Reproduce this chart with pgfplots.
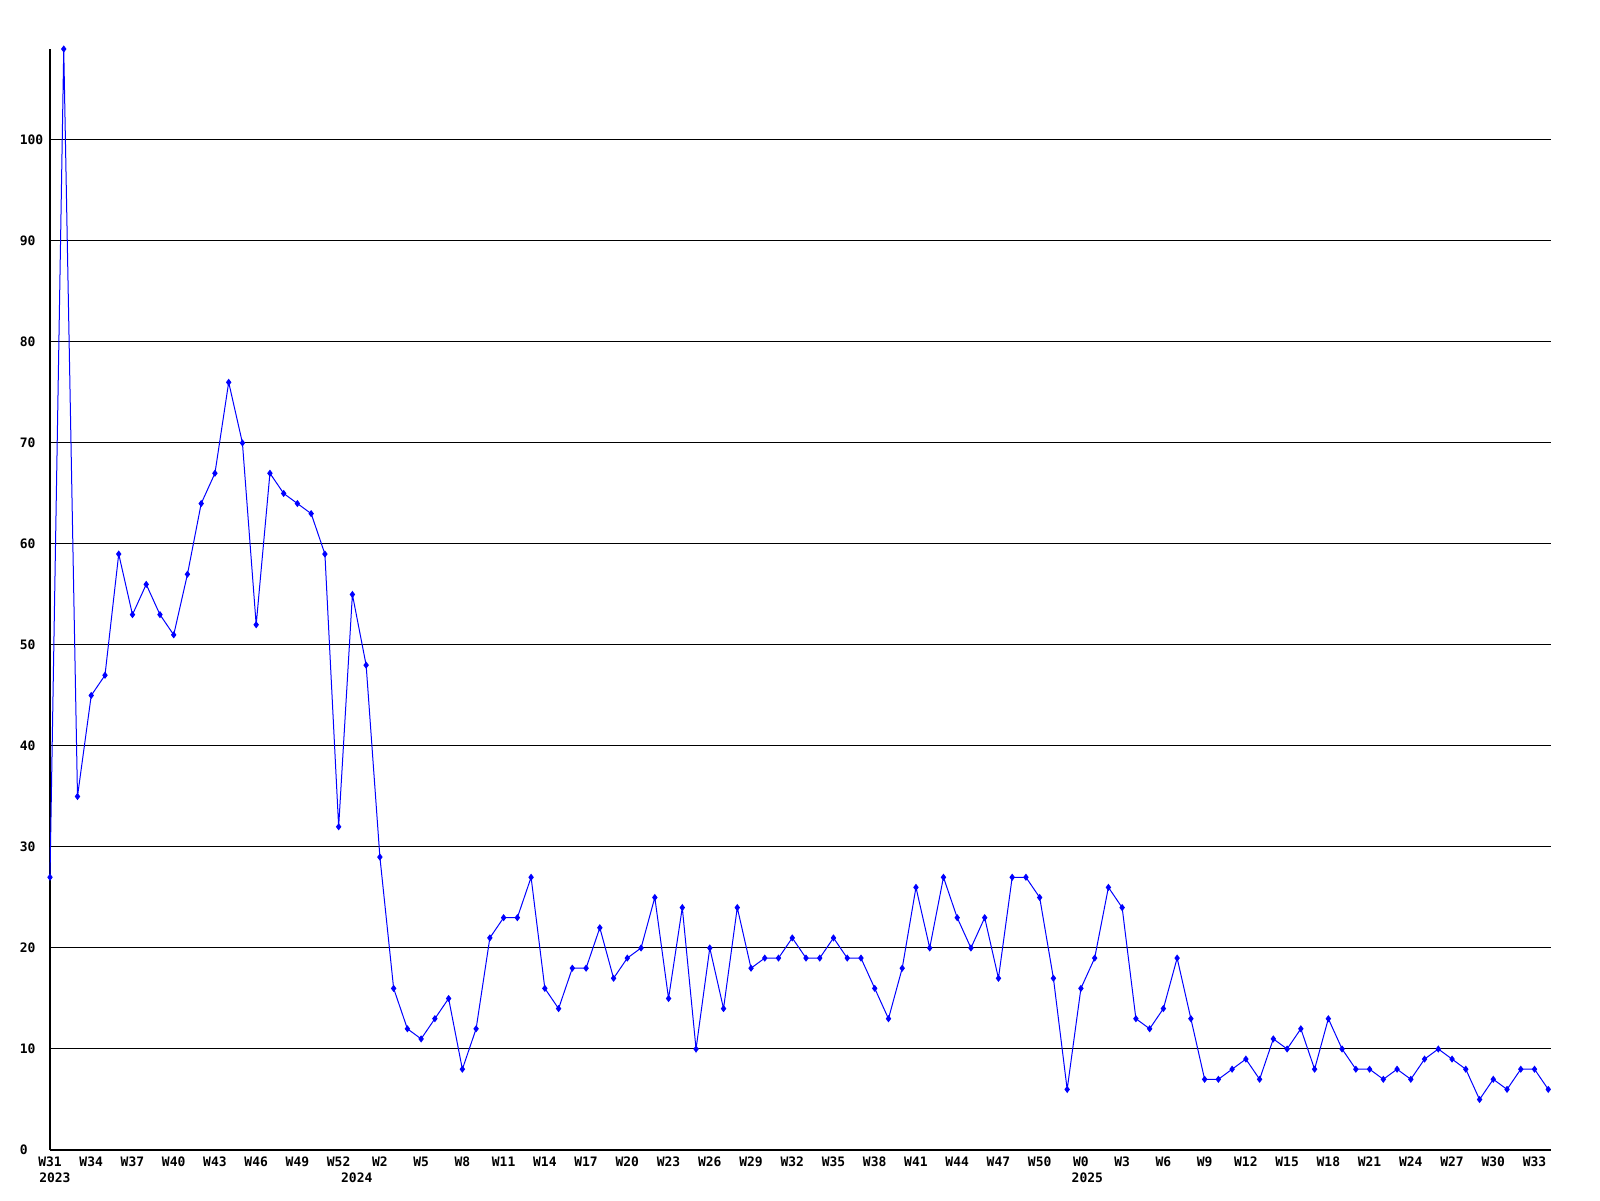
\documentclass[border=0pt]{standalone}
\usepackage{fontspec}
\setmainfont{DejaVu Sans Mono}
\usepackage{pgfplots}
\pgfplotsset{compat=1.18}
\pgfplotstableread{
i v
0 27
1 109
2 35
3 45
4 47
5 59
6 53
7 56
8 53
9 51
10 57
11 64
12 67
13 76
14 70
15 52
16 67
17 65
18 64
19 63
20 59
21 32
22 55
23 48
24 29
25 16
26 12
27 11
28 13
29 15
30 8
31 12
32 21
33 23
34 23
35 27
36 16
37 14
38 18
39 18
40 22
41 17
42 19
43 20
44 25
45 15
46 24
47 10
48 20
49 14
50 24
51 18
52 19
53 19
54 21
55 19
56 19
57 21
58 19
59 19
60 16
61 13
62 18
63 26
64 20
65 27
66 23
67 20
68 23
69 17
70 27
71 27
72 25
73 17
74 6
75 16
76 19
77 26
78 24
79 13
80 12
81 14
82 19
83 13
84 7
85 7
86 8
87 9
88 7
89 11
90 10
91 12
92 8
93 13
94 10
95 8
96 8
97 7
98 8
99 7
100 9
101 10
102 9
103 8
104 5
105 7
106 6
107 8
108 8
109 6
}\datatable
\definecolor{lineblue}{RGB}{0,0,255}
\begin{document}
\begin{tikzpicture}
\useasboundingbox (0,0) rectangle (800pt,600pt);
\begin{axis}[
  at={(25pt,25pt)}, anchor=south west,
  scale only axis, width=750.5pt, height=550.5pt,
  xmin=0, xmax=109.2, ymin=0, ymax=109,
  axis x line*=bottom, axis y line*=left,
  axis line style={black, line width=0.8pt, -},
  xtick={0,3,...,108},
  xticklabels={W31,W34,W37,W40,W43,W46,W49,W52,W2,W5,W8,W11,W14,W17,W20,W23,W26,W29,W32,W35,W38,W41,W44,W47,W50,W0,W3,W6,W9,W12,W15,W18,W21,W24,W27,W30,W33},
  ytick={0,10,...,100},
  major tick length=0pt,
  ymajorgrids, grid style={black, line width=0.5pt},
  /pgf/number format/assume math mode=true,
  ticklabel style={font=\bfseries\fontsize{6.5}{7}\selectfont, inner sep=0pt},
  xticklabel style={anchor=base, yshift=-8.3pt},
  yticklabel style={anchor=west, xshift=-15.3pt},
  clip=false,
]
\addplot[color=lineblue, line width=0.5pt, mark=diamond*, mark size=1.4pt, mark options={fill=lineblue, draw=lineblue}] table[x=i, y=v] {\datatable};
\node[anchor=base west, inner sep=0pt, font=\bfseries\fontsize{6.5}{7}\selectfont] at (axis cs:-0.81,0) [yshift=-16pt] {2023};
\node[anchor=base west, inner sep=0pt, font=\bfseries\fontsize{6.5}{7}\selectfont] at (axis cs:21.15,0) [yshift=-16pt] {2024};
\node[anchor=base west, inner sep=0pt, font=\bfseries\fontsize{6.5}{7}\selectfont] at (axis cs:74.3,0) [yshift=-16pt] {2025};
\end{axis}
\end{tikzpicture}
\end{document}
